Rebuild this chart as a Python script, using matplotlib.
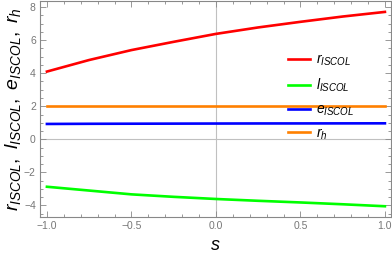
import numpy as np
import matplotlib.pyplot as plt
from matplotlib.ticker import MultipleLocator

plt.rcParams['font.family'] = ['Liberation Sans', 'DejaVu Sans']
plt.rcParams['mathtext.fontset'] = 'custom'
plt.rcParams['mathtext.it'] = 'Liberation Sans:italic'
plt.rcParams['mathtext.rm'] = 'Liberation Sans'

# values
s = [-1.0, -0.75, -0.5, -0.25, 0.0, 0.25, 0.5, 0.75, 1.0]
r_iscol = [4.1, 4.8, 5.4, 5.9, 6.38, 6.77, 7.11, 7.43, 7.71]
l_iscol = [-2.87, -3.1, -3.33, -3.48, -3.61, -3.72, -3.82, -3.93, -4.05]
e_iscol = [0.93, 0.94, 0.945, 0.95, 0.955, 0.96, 0.962, 0.965, 0.968]
r_h = [2.0] * len(s)

labels = [r'$r_{ISCOL}$', r'$l_{ISCOL}$', r'$e_{ISCOL}$', r'$r_h$']
colors = ['#ff0000', '#00ff00', '#0000ff', '#ff8000']

fig = plt.figure(figsize=(3.92, 2.58), dpi=100)
ax = fig.add_axes([40/392, 1 - 217/258, 351/392, 216/258])

ax.axhline(0, color='#c0c0c0', lw=0.8, zorder=1)
ax.axvline(0, color='#c0c0c0', lw=0.8, zorder=1)

for y, lab, c in zip([r_iscol, l_iscol, e_iscol, r_h], labels, colors):
    ax.plot(s, y, color=c, lw=1.9, label=lab, zorder=3)

ax.set_xlim(-1.041, 1.036)
ax.set_ylim(-4.70, 8.37)
ax.xaxis.set_major_locator(MultipleLocator(0.5))
ax.xaxis.set_minor_locator(MultipleLocator(0.1))
ax.yaxis.set_major_locator(MultipleLocator(2))
ax.yaxis.set_minor_locator(MultipleLocator(0.5))
ax.xaxis.set_major_formatter(lambda v, p: f'{v:.1f}'.replace('-', '\u2212'))
ax.yaxis.set_major_formatter(lambda v, p: f'{v:.0f}'.replace('-', '\u2212'))

for sp in ax.spines.values():
    sp.set_color('#888888')
    sp.set_linewidth(0.8)
ax.tick_params(which='both', direction='in', top=True, right=True,
               colors='#888888', labelcolor='#777777', labelsize=7.5, width=0.6)
ax.tick_params(which='major', length=4, pad=3)
ax.tick_params(which='minor', length=2)

ax.set_xlabel(r'$s$', fontsize=13, labelpad=4)
ax.set_ylabel(r'$r_{ISCOL},\ l_{ISCOL},\ e_{ISCOL},\ r_h$', fontsize=14, labelpad=1)

ax.legend(loc='upper left', bbox_to_anchor=(288/392, 1 - 53/258),
          bbox_transform=fig.transFigure, frameon=False, fontsize=10,
          handlelength=1.55, handletextpad=0.5, labelspacing=0.6,
          borderpad=0, borderaxespad=0)

fig.savefig('out.png', dpi=100)
